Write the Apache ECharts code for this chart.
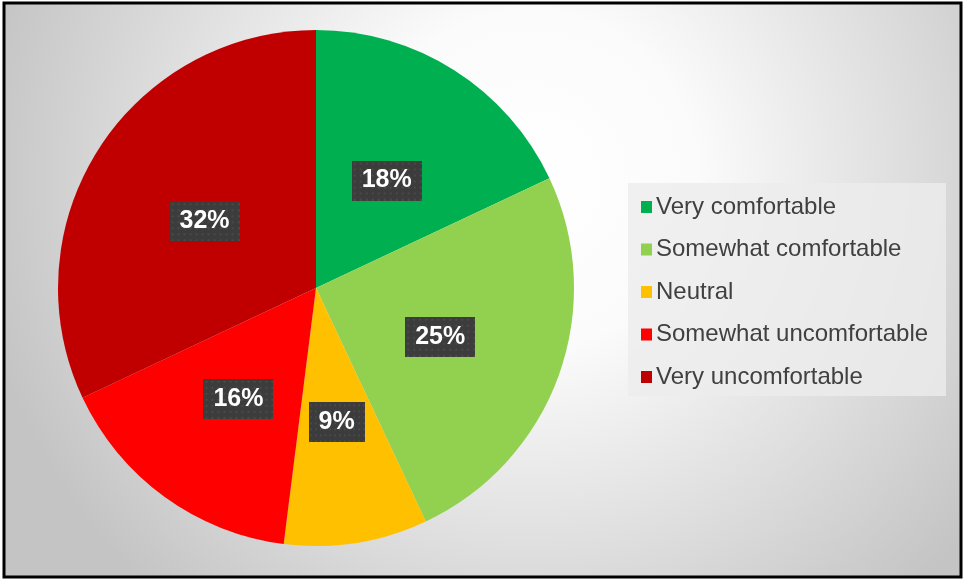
<!DOCTYPE html>
<html>
<head>
<meta charset="utf-8">
<script src="https://cdn.jsdelivr.net/npm/echarts@6/dist/echarts.min.js"></script>
<style>
  html, body { margin: 0; padding: 0; background: #ffffff; }
  #chart { width: 964px; height: 580px; }
</style>
</head>
<body>
<div id="chart"></div>
<script>
// Survey responses: comfort level
const categories = ['Very comfortable', 'Somewhat comfortable', 'Neutral', 'Somewhat uncomfortable', 'Very uncomfortable'];
const shares = [18, 25, 9, 16, 32];
const sliceColors = ['#00b050', '#92d050', '#ffc000', '#ff0000', '#c00000'];

// Dark dotted texture used behind the percentage labels
function dottedTile() {
  const c = document.createElement('canvas');
  c.width = 70; c.height = 40;
  const g = c.getContext('2d');
  g.fillStyle = '#3c3c3c';
  g.fillRect(0, 0, c.width, c.height);
  g.fillStyle = '#4a4a4a';
  for (let y = 2; y < c.height; y += 6) {
    for (let x = 2; x < c.width; x += 6) {
      g.fillRect(x, y, 2, 2);
    }
  }
  return c;
}
const tile = dottedTile();

const chart = echarts.init(document.getElementById('chart'), null, { renderer: 'canvas' });

chart.setOption({
  animation: false,
  graphic: [
    {
      type: 'rect', z: -10, silent: true,
      shape: { x: 4, y: 3, width: 957, height: 574 },
      style: {
        fill: {
          type: 'radial', x: 530, y: 180, r: 560, global: true,
          colorStops: [
            { offset: 0, color: '#ffffff' },
            { offset: 0.3, color: '#fbfbfb' },
            { offset: 1, color: '#c4c4c4' }
          ]
        },
        stroke: '#000000', lineWidth: 3
      }
    },
    {
      type: 'rect', z: -5, silent: true,
      shape: { x: 628, y: 183, width: 318, height: 213 },
      style: { fill: 'rgba(236,236,236,0.8)' }
    }
  ],
  legend: {
    orient: 'vertical',
    left: 628,
    top: 183,
    padding: [12, 12, 6, 13],
    itemWidth: 11,
    itemHeight: 12,
    itemGap: 18.5,
    icon: 'rect',
    data: categories,
    textStyle: {
      color: '#404040',
      fontSize: 24,
      lineHeight: 24,
      padding: [0, 0, 0, -1],
      fontFamily: 'Liberation Sans, Arial, sans-serif'
    }
  },
  series: [{
    type: 'pie',
    center: [316, 288],
    radius: [0, 258],
    startAngle: 90,
    clockwise: true,
    avoidLabelOverlap: false,
    labelLine: { show: false },
    itemStyle: { borderWidth: 0 },
    label: {
      show: true,
      position: 'inside',
      formatter: '{c}%',
      color: '#ffffff',
      fontSize: 25,
      fontWeight: 'bold',
      lineHeight: 24,
      fontFamily: 'Liberation Sans, Arial, sans-serif',
      padding: [8, 10],
      offset: [0, 4],
      backgroundColor: { image: tile },
      shadowColor: 'rgba(0,0,0,0.55)',
      shadowBlur: 6,
      shadowOffsetX: 3,
      shadowOffsetY: 4
    },
    emphasis: { disabled: true },
    data: categories.map((name, i) => ({
      name: name,
      value: shares[i],
      itemStyle: { color: sliceColors[i] }
    }))
  }]
});
</script>
</body>
</html>
